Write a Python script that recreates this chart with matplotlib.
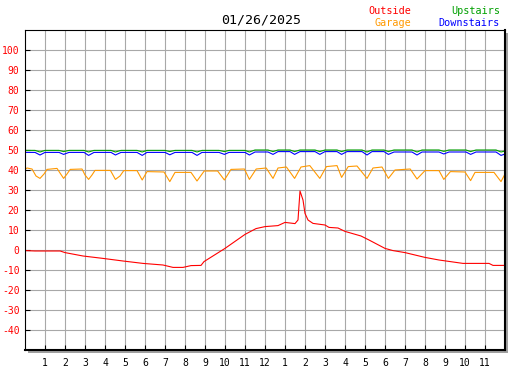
import matplotlib
matplotlib.use("Agg")
from matplotlib import pyplot as plt
from matplotlib.patches import Rectangle

# hours since midnight
out_hours = [0, 0.5, 1.0, 1.76, 2.0, 2.9, 3.9, 4.9, 5.9, 6.9, 7.4, 7.9, 8.3, 8.8, 8.95,
             10.0, 11.0, 11.55, 12.0, 12.65, 13.0, 13.5, 13.65, 13.75, 13.9, 14.0, 14.15,
             14.4, 15.0, 15.2, 15.65, 16.0, 16.8, 17.2, 18.0, 18.4, 19.0, 20.0, 20.7,
             21.9, 23.2, 23.4, 24.0]
out_temps = [-0.3, -0.5, -0.5, -0.5, -1.3, -3.0, -4.2, -5.5, -6.7, -7.5, -8.7, -8.7, -7.8,
             -7.7, -5.8, 0.8, 7.8, 10.7, 11.7, 12.2, 13.8, 13.2, 15.0, 29.5, 25.0, 18.3,
             15.0, 13.3, 12.5, 11.3, 11.0, 9.3, 7.0, 5.0, 0.8, -0.3, -1.3, -3.7, -5.0,
             -6.7, -6.7, -7.7, -7.7]

garage_hours = [0.0, 0.1, 0.35, 0.55, 0.75, 0.95, 1.1, 1.6, 1.75, 1.93, 2.1, 2.26, 2.85,
                3.0, 3.18, 3.35, 3.5, 4.27, 4.52, 4.75, 4.94, 5.6, 5.86, 6.1, 6.95, 7.24,
                7.5, 8.3, 8.6, 8.96, 9.63, 9.97, 10.3, 10.97, 11.22, 11.56, 12.06, 12.4,
                12.65, 13.07, 13.48, 13.8, 14.24, 14.74, 15.07, 15.6, 15.83, 16.16, 16.6,
                17.1, 17.4, 17.85, 18.17, 18.5, 19.26, 19.6, 20.0, 20.7, 20.94, 21.27,
                22.0, 22.28, 22.5, 23.45, 23.8, 24.0]
garage_temps = [40.3, 41.0, 40.5, 37.0, 35.8, 38.0, 40.3, 40.8, 38.5, 35.8, 38.0, 40.3, 40.5,
                37.5, 35.3, 37.5, 39.8, 39.8, 35.3, 37.0, 39.7, 39.7, 35.0, 39.2, 39.0, 34.2,
                38.8, 38.8, 34.5, 39.5, 39.5, 35.0, 40.3, 40.5, 35.3, 40.5, 41.0, 35.8,
                41.0, 41.5, 35.8, 41.5, 42.2, 35.8, 41.7, 42.2, 36.3, 41.7, 42.0,
                35.8, 41.0, 41.5, 35.8, 40.0, 40.5, 35.5, 39.7, 39.7, 35.3, 39.2,
                39.0, 34.7, 38.8, 38.8, 34.2, 38.0]

ud_hours = [0.0, 0.5, 0.75, 1.0, 1.7, 1.93, 2.2, 2.95, 3.18, 3.45, 4.3, 4.52, 4.8, 5.6,
            5.86, 6.1, 7.0, 7.24, 7.5, 8.35, 8.6, 8.85, 9.7, 9.97, 10.2, 11.0, 11.22, 11.5,
            12.15, 12.4, 12.65, 13.25, 13.48, 13.75, 14.5, 14.74, 15.0, 15.6, 15.83, 16.1,
            16.85, 17.1, 17.35, 17.95, 18.17, 18.45, 19.35, 19.6, 19.85, 20.7, 20.94, 21.2,
            22.05, 22.28, 22.55, 23.55, 23.8, 24.0]
down_temps = [48.8, 48.8, 47.5, 48.8, 48.8, 47.8, 48.8, 48.8, 47.3, 48.8, 48.8, 47.5, 48.8,
              48.8, 47.3, 48.8, 48.8, 47.6, 48.8, 48.8, 47.3, 48.8, 48.8, 47.8, 48.8, 48.8,
              47.5, 49.0, 49.0, 47.8, 49.2, 49.2, 47.8, 49.2, 49.2, 47.8, 49.2, 49.2, 47.8,
              49.2, 49.2, 47.5, 49.2, 49.2, 47.8, 49.0, 49.0, 47.5, 49.0, 49.0, 48.0, 49.0,
              49.0, 47.8, 49.0, 49.0, 47.3, 48.0]
up_temps = [49.8, 49.8, 49.0, 49.8, 49.8, 49.2, 49.8, 49.8, 49.0, 49.8, 49.8, 49.0, 49.8,
            49.8, 49.0, 49.8, 49.8, 49.2, 49.8, 49.8, 49.0, 49.8, 49.8, 49.2, 49.8, 49.8,
            49.0, 50.0, 50.0, 49.2, 50.0, 50.0, 49.2, 50.0, 50.0, 49.2, 50.0, 50.0, 49.2,
            50.0, 50.0, 49.0, 50.0, 50.0, 49.2, 50.0, 50.0, 49.0, 50.0, 50.0, 49.3, 50.0,
            50.0, 49.2, 50.0, 50.0, 49.0, 49.5]

hour_ticks = list(range(1, 24))
hour_labels = [str(h) for h in range(1, 12)] + ['12'] + [str(h) for h in range(1, 12)]

W, H = 527, 370
fig = plt.figure(figsize=(W / 100, H / 100), dpi=100)
fig.patch.set_facecolor('white')
L, R, T, B = 25, 505, 30, 350
ax = fig.add_axes([L / W, 1 - B / H, (R - L) / W, (B - T) / H])
ax.set_facecolor('white')
ax.set_zorder(2)

# drop shadow behind the frame
fig.patches.append(Rectangle(((L + 3) / W, 1 - (B + 3) / H), (R - L) / W, (B - T) / H,
                             transform=fig.transFigure, facecolor='#a0a0a0',
                             edgecolor='none', zorder=1))

ax.plot(ud_hours, up_temps, color='#00a000', lw=0.8)
ax.plot(ud_hours, down_temps, color='#0000ff', lw=0.8)
ax.plot(garage_hours, garage_temps, color='#ff9900', lw=0.8)
ax.plot(out_hours, out_temps, color='#ff0000', lw=0.8)

ax.set_xlim(0, 24)
ax.set_ylim(-50, 110)
ax.set_xticks(hour_ticks)
ax.set_xticklabels(hour_labels, family='DejaVu Sans Mono', fontsize=7)
ax.set_yticks(range(-40, 101, 10))
ax.set_yticklabels([str(v) for v in range(-40, 101, 10)], family='DejaVu Sans Mono',
                   fontsize=7, color='#ff0000')
ax.tick_params(axis='both', direction='in', length=3.5, width=0.8, color='black')
ax.tick_params(axis='x', pad=6)
ax.tick_params(axis='y', pad=4)
ax.grid(True, color='#a8a8a8', lw=0.8)
ax.set_axisbelow(True)
for s in ax.spines.values():
    s.set_color('black')
    s.set_linewidth(0.8)
ax.spines['right'].set_linewidth(1.5)
ax.spines['bottom'].set_linewidth(1.5)

fig.text(261 / W, 1 - 20 / H, '01/26/2025', ha='center', va='center',
         family='DejaVu Sans Mono', fontsize=9.5)
fig.text(411 / W, 1 - 11 / H, 'Outside', ha='right', va='center',
         family='DejaVu Sans Mono', fontsize=7.3, color='#ff0000')
fig.text(411 / W, 1 - 23.5 / H, 'Garage', ha='right', va='center',
         family='DejaVu Sans Mono', fontsize=7.3, color='#ff9900')
fig.text(500 / W, 1 - 11 / H, 'Upstairs', ha='right', va='center',
         family='DejaVu Sans Mono', fontsize=7.3, color='#00a000')
fig.text(500 / W, 1 - 23.5 / H, 'Downstairs', ha='right', va='center',
         family='DejaVu Sans Mono', fontsize=7.3, color='#0000ff')

fig.savefig('out.png', dpi=100)
